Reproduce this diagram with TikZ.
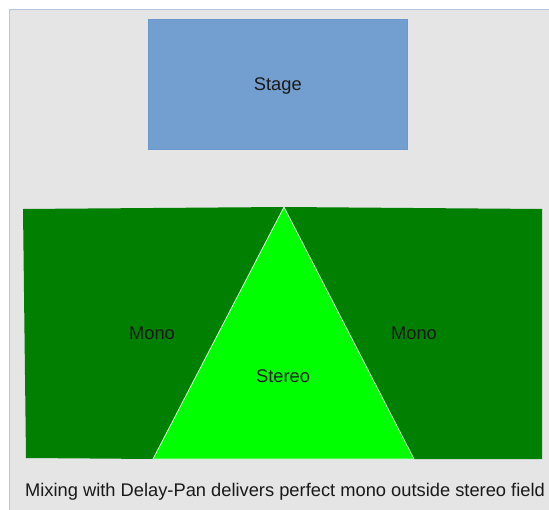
\documentclass[tikz,border=0pt]{standalone}
\usepackage{fontspec}
\setmainfont{Liberation Sans}
\definecolor{bgray}{HTML}{E5E5E5}
\definecolor{bedge}{HTML}{B4C7DC}
\definecolor{stageblue}{HTML}{729FCF}
\definecolor{stageedge}{HTML}{6A98CC}
\definecolor{monogreen}{HTML}{007F00}
\definecolor{stereogreen}{HTML}{00FF00}
\tikzset{
  lbl/.style={font=\fontsize{18.3}{22}\selectfont, text=black!90, inner sep=0pt},
  monoshape/.style={fill=monogreen, draw=none},
}
\begin{document}
\begin{tikzpicture}[x=1pt,y=-1pt]
\useasboundingbox (0,0) rectangle (549,510);
\fill[white] (0,0) rectangle (549,510);
\fill[bgray] (9,9) rectangle (549,510);
\draw[bedge, line width=0.8pt] (9,510) -- (9,9) -- (549,9);
% stage
\node[draw=stageedge, fill=stageblue, line width=0.6pt, minimum width=259pt, minimum height=130pt, inner sep=0pt, anchor=north west] (stage) at (148,19) {};
\node[lbl] (stagetxt) at ([yshift=-1.5pt]stage.center) {Stage};
% mono regions
\coordinate (apex) at (284,207);
\coordinate (bl) at (153,459);
\coordinate (br) at (414,459);
\fill[monoshape] (23,209) -- (apex) -- (bl) -- (26,458) -- cycle;
\fill[monoshape] (apex) -- (542,209) -- (542,459) -- (br) -- cycle;
% stereo triangle
\filldraw[fill=stereogreen, draw=white!85!stereogreen, line width=0.8pt] (apex) -- (br) -- (bl) -- cycle;
\node[lbl] (monol) at (152,333) {Mono};
\node[lbl] (monor) at (414,333) {Mono};
\node[lbl] (stereo) at (283,376) {Stereo};
\node[lbl] (caption) at (285,492) {Mixing with Delay-Pan delivers perfect mono outside stereo field};
\end{tikzpicture}
\end{document}
